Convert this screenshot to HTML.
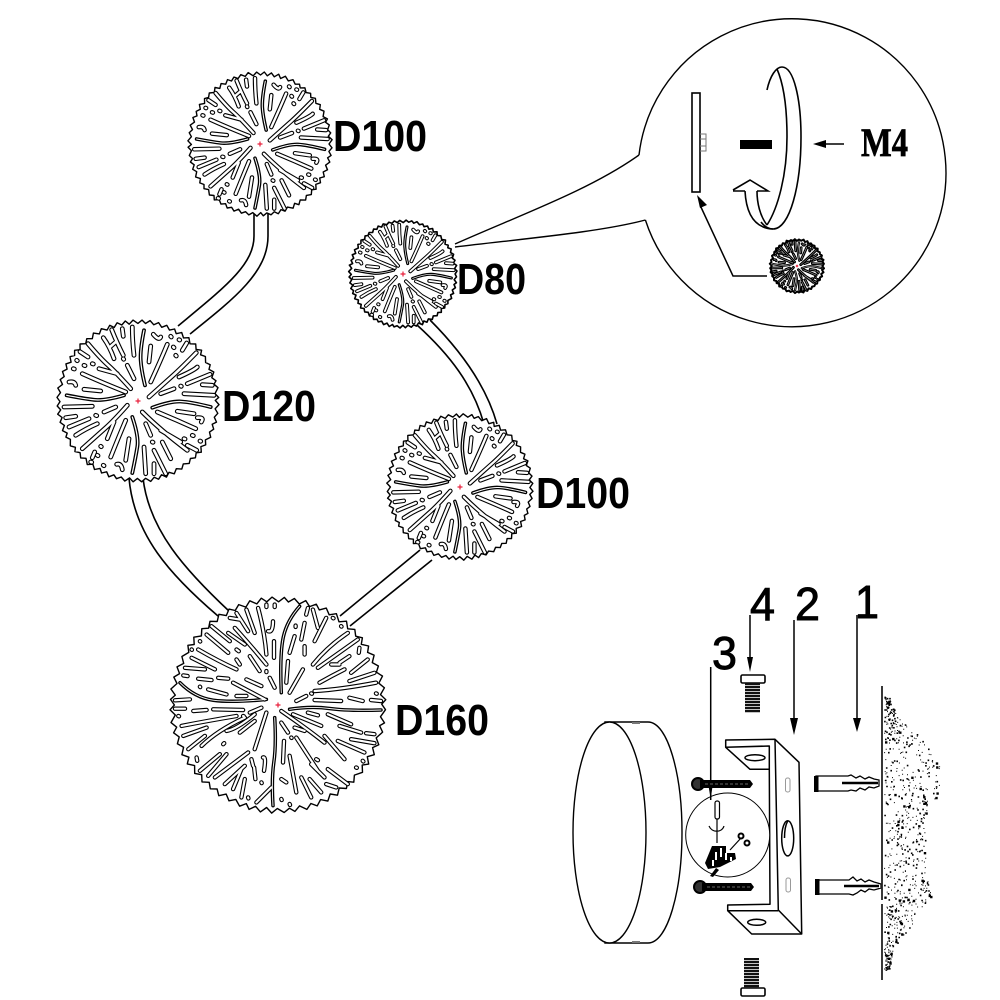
<!DOCTYPE html>
<html><head><meta charset="utf-8"><style>
html,body{margin:0;padding:0;background:#fff}
svg{display:block}
text{font-family:"Liberation Sans",sans-serif;fill:#000}
</style></head><body>
<svg id="s" xmlns="http://www.w3.org/2000/svg" width="1000" height="1000" viewBox="0 0 1000 1000">
<rect width="1000" height="1000" fill="#fff"/>
<g fill="none" stroke="#000" stroke-width="1.6">
<path d="M254 210V236C254 265 225 287 178 326"/>
<path d="M268 210V236C268 272 235 298 190 334"/>
<path d="M129 478C134 535 170 575 218 616"/>
<path d="M143 478C149 530 185 570 230 612"/>
<path d="M340 616L420 550"/>
<path d="M350 626L432 560"/>
<path d="M417 325C450 355 473 385 484 424"/>
<path d="M430 320C460 350 486 385 497 424"/>
</g>
<g id="disks"></g>
<g font-weight="bold">
<text x="333" y="151" font-size="44" textLength="94" lengthAdjust="spacingAndGlyphs">D100</text>
<text x="457" y="294" font-size="44" textLength="69" lengthAdjust="spacingAndGlyphs">D80</text>
<text x="222" y="421" font-size="44" textLength="94" lengthAdjust="spacingAndGlyphs">D120</text>
<text x="536" y="508" font-size="44" textLength="94" lengthAdjust="spacingAndGlyphs">D100</text>
<text x="395" y="735" font-size="44" textLength="94" lengthAdjust="spacingAndGlyphs">D160</text>
</g>
<!-- callout -->
<g fill="none" stroke="#000" stroke-width="1.4">
<path d="M639 155A154 154 0 1 1 645.4 220"/>
<path d="M455 244C520 215 590 190 639 155"/>
<path d="M455 247C530 238 600 232 645.4 220"/>
<rect x="692" y="93" width="8" height="99" stroke-width="1.6"/>
<path d="M700 134H706V151H700M700 139H706M700 146H706" stroke="#777" stroke-width="1"/>
<path d="M767 90C770 76 776 67 782 67C794 67 801 100 801 137C801 185 790 229 773 229C768 229 764 226 761 222" stroke-width="1.6"/>
<path d="M777 69C784 85 787 110 787 137C787 175 778 208 767 225" stroke-width="1.6"/>
<path d="M745 191C746 210 752 228 773 229M757 191C757 203 760 216 767 225" stroke-width="1.6"/>
<path d="M733 190L750 180L768 191H757M745 191H733" stroke-width="1.6"/>
<path d="M767 276H733L700 205" stroke-width="1.5"/>
<path d="M820 144H844" stroke-width="1.5"/>
</g>
<rect x="740" y="140" width="32" height="9" fill="#000"/>
<path d="M813 144L826 140V148Z M697 195L707 205L700 208Z"/>
<text x="861" y="156" font-size="40" font-weight="bold" textLength="47" lengthAdjust="spacingAndGlyphs" stroke="#000" stroke-width=".7" style="font-family:'Liberation Serif',serif">M4</text>
<!-- numbers -->
<g font-size="46" stroke="#000" stroke-width=".9">
<text x="855" y="618" textLength="24" lengthAdjust="spacingAndGlyphs">1</text>
<text x="795" y="620" textLength="25" lengthAdjust="spacingAndGlyphs">2</text>
<text x="712" y="669" textLength="25" lengthAdjust="spacingAndGlyphs">3</text>
<text x="750" y="620" textLength="25" lengthAdjust="spacingAndGlyphs">4</text>
</g>
<g fill="none" stroke="#000" stroke-width="1.5">
<path d="M857 615V725M794 620V728M750 615V665M710.7 667V790"/>
</g>
<path d="M853 718H861L857 732Z M790 718H798L794 735Z M747 657H753L750 672Z M708 783H713L710.7 799Z"/>
<!-- cap -->
<g fill="#fff" stroke="#000" stroke-width="1.4">
<path d="M605 722H648C668 722 682 775 682 832C682 890 668 943 648 943H605Z"/>
<ellipse cx="609.5" cy="832.5" rx="36.5" ry="110.5"/>
</g>
<path d="M632 722h8v2h-8zM632 941h8v2h-8z" fill="#777"/>
<!-- bracket -->
<g fill="#fff" stroke="#000" stroke-width="1.5" stroke-linejoin="round">
<path d="M725.7 740L775 739.3L799 762.3L801.7 934H751.7L727.7 910.7V905L770 904.3L769.3 769.3H750L725.7 747.3Z"/>
<path d="M769.3 769.3V746L725.7 747.3" fill="none"/>
<path d="M775 739.3L778.3 910L801.7 934M727.7 910.7H778.3" fill="none"/>
<ellipse cx="755" cy="757.7" rx="10" ry="3"/>
<ellipse cx="756.7" cy="922.3" rx="9" ry="3"/>
<ellipse cx="787.7" cy="838.3" rx="6" ry="17.6"/>
<path d="M784.5 838C784.5 828 786 824 787.7 821" fill="none"/>
</g>
<g fill="#fff" stroke="#999" stroke-width="1">
<rect x="785.5" y="778" width="4.5" height="14" rx="2"/>
<rect x="786" y="878" width="4.5" height="14" rx="2"/>
</g>
<!-- screws -->
<g>
<circle cx="698" cy="784" r="6" fill="#333" stroke="#000" stroke-width="2"/>
<circle cx="700" cy="887" r="6" fill="#333" stroke="#000" stroke-width="2"/>
<path d="M700 780H750L753 784L750 788H700Z"/>
<path d="M702 883H751L754 887L751 891H702Z"/>
<path d="M705 784H750M707 887H751" stroke="#888" stroke-width=".8" stroke-dasharray="3 2" fill="none"/>
</g>
<!-- wiring circle -->
<circle cx="727.7" cy="835" r="42" fill="#fff" stroke="#000" stroke-width="1"/>
<path d="M710.7 790V800" stroke="#000" stroke-width="1.5"/>
<g fill="none" stroke="#000" stroke-width="1.2">
<rect x="715" y="801" width="4.5" height="18" rx="2"/>
<path d="M709 826C712 833 722 833 724 826M717 819V843"/>
<path d="M730 850L741 838"/>
<circle cx="741" cy="836" r="2.5" stroke-width="2"/>
<circle cx="747" cy="843" r="2.5" stroke-width="2"/>
</g>
<path d="M712 846h14v7h9l1 6l-16 8l-12 2l-3 -6zM716 868l-6 8l3 1l6 -7z"/>
<g fill="#fff"><rect x="715" y="852" width="2" height="8"/><rect x="720" y="848" width="2" height="9"/><rect x="725" y="853" width="2" height="7"/><rect x="712" y="860" width="2" height="6"/><rect x="730" y="857" width="2" height="4"/></g>
<!-- bolts -->
<g>
<rect x="741" y="675" width="24" height="8" rx="1.5" fill="#fff" stroke="#000" stroke-width="1.6"/>
<line x1="752.5" y1="683" x2="752.5" y2="713" stroke="#111" stroke-width="15" stroke-dasharray="2.2 .8"/>
<rect x="741" y="988" width="24" height="8" rx="1.5" fill="#fff" stroke="#000" stroke-width="1.6"/>
<line x1="751.5" y1="958" x2="751.5" y2="988" stroke="#111" stroke-width="15" stroke-dasharray="2.2 .8"/>
</g>
<!-- anchors -->
<g fill="#fff" stroke="#000" stroke-width="1.3">
<path d="M816 776H848L851 775L856 778L860 776L865 779L869 777L874 779L879 780V786L874 788L869 787L865 790L860 788L856 791L851 790L848 791H816Z"/>
<path d="M816 880H849L853 877L857 881L861 879L865 882L869 880L874 882L881 884V888L874 890L869 889L865 892L861 890L857 893L853 895L849 894H816Z"/>
</g>
<path d="M814 776h4.5v16h-4.5zM815 879h4.5v16h-4.5z"/>
<path d="M842 783H878M844 886H879" stroke="#000" stroke-width="2.4"/>
<!-- wall -->
<path d="M882 686V900M882 904V980" stroke="#222" stroke-width="1.8" fill="none"/>
<g id="dots" fill="#000"></g>
</svg>
<script>
(function(){
var NS='http://www.w3.org/2000/svg';
function el(p,n,a){var e=document.createElementNS(NS,n);for(var k in a)e.setAttribute(k,a[k]);p.appendChild(e);return e;}
function R(seed){var s=seed>>>0;return function(){s=(s+0x6D2B79F5)>>>0;var t=s;t=Math.imul(t^(t>>>15),t|1);t^=t+Math.imul(t^(t>>>7),t|61);return((t^(t>>>14))>>>0)/4294967296;};}
var A={c:[262,262],r:243,a:[
"!280,50 268,110 272,170 283,215","245,40 245,80 250,125","215,45 218,68","183,48 200,90 218,125",
"158,72 178,100 190,135","195,85 178,100","112,90 150,135 195,175 240,225","230,155 250,195","218,135 219,137",
"88,114 112,130","125,150 128,151","100,155 103,156","78,140 80,141","68,165 71,166","145,165 200,180",
"95,180 150,205 225,235","55,205 72,202 75,215","100,227 150,232","!48,245 100,255 160,262 220,245","40,280 125,278",
"45,312 75,308","135,305 138,306","160,295 195,280","55,340 115,315","75,365 105,345 140,330",
"95,405 140,365 190,320 230,275","125,432 132,415","150,398 152,399","140,425 142,426","120,445 123,446","158,455 160,456",
"180,430 200,380 225,320","170,375 190,325","225,440 235,375","198,452 212,448 215,468","!245,310 265,370 255,430 245,478",
"285,330 300,365","305,385 307,386","280,400 285,480","310,450 310,480","310,410 330,450 345,480","335,385 360,435",
"275,295 330,350 410,410","330,350 390,385","400,375 403,376","425,365 428,366","448,382 450,383","410,395 438,410",
"320,295 380,320 435,345","380,293 430,300","440,312 462,310 452,325","!305,282 360,262 420,265 480,280","400,240 490,245",
"455,213 485,215","390,217 392,218","330,240 370,225","295,250 345,205 390,165 437,117","385,190 430,170 440,160",
"410,210 478,182","300,205 330,140 350,92","295,145 300,97","308,62 325,82 330,70","360,68 362,70","385,78 387,79",
"368,100 370,102","375,125 377,127","395,110 408,88"
]};
var B={c:[340,347],r:325,a:[
"305,45 305,52","330,45 330,52","!405,50 365,95 345,200 350,310","280,55 300,130 305,195","245,60 270,130","215,70 250,125","195,85 225,90",
"325,95 325,130 310,125","328,155 328,205","305,245 305,248","210,115 260,170 305,225","140,110 195,155","190,130 240,165","125,135 190,190",
"105,155 106,156","80,180 81,181","215,180 222,185","100,180 160,215 215,240","255,200 285,245","80,205 150,240","60,235 120,240","215,210 225,225",
"245,270 290,290","315,265 330,295","55,258 68,260","100,268 140,272","160,265 190,268","205,280 300,330","130,300 185,315","105,292 106,293",
"!45,280 90,325 200,340 305,330","215,320 245,320","30,333 75,330","30,358 60,358","85,365 125,362","145,360 235,362","40,380 42,381",
"50,410 125,395 215,380","235,380 237,381","255,370 290,355","55,440 125,415","70,480 120,440","110,470 155,425 240,385","185,425 215,420 270,375",
"175,465 178,462","105,545 165,495","95,505 97,515","130,560 185,495","150,565 250,490","225,430 270,395","180,585 240,530","270,480 305,370",
"260,510 265,530","205,600 230,540","230,625 240,570","268,535 272,570","250,625 251,628","290,580 291,582","295,505 305,500 298,545",
"!330,385 335,470 320,570 325,650","275,640 320,595","350,570 365,580","358,455 355,520","350,630 351,633","375,645 376,648","375,500 395,610",
"410,565 440,625","435,570 470,610","440,525 480,565","485,585 515,595","490,540 550,585","380,445 381,446","395,445 460,545","455,510 460,513",
"350,400 370,430","350,365 430,420 480,460","390,415 420,425","480,440 540,510","520,455 600,490","595,515 597,517","575,535 577,536",
"385,375 470,410","430,370 460,378","490,375 560,405","525,410 590,430","560,450 630,462","605,432 630,435","!375,360 440,350 550,365 650,362",
"450,332 530,335","555,325 595,335","620,332 650,335","635,312 637,313","395,335 425,320","440,312 442,313","450,305 530,300 635,280",
"555,275 630,250","560,250 610,210","585,175 583,190","465,280 500,260 540,240","500,225 525,225","525,220 555,200","375,310 415,240",
"365,280 370,215","445,225 490,170 550,130","460,235 580,150","420,170 420,195","375,190 390,140","410,150 420,100","393,108 393,112",
"450,155 485,85","425,75 430,55","445,60 460,115","505,85 507,86","530,110 531,111"
]};
function path(str,P,cx,cy,r){
 var k=r/P.r,pts=str.replace('!','').split(' ').map(function(q){var v=q.split(',');return[cx+(+v[0]-P.c[0])*k,cy+(+v[1]-P.c[1])*k];});
 var f=function(n){return n.toFixed(1);};
 var d='M'+f(pts[0][0])+' '+f(pts[0][1]);
 if(pts.length<3){return d+'L'+f(pts[1][0])+' '+f(pts[1][1]);}
 for(var i=1;i<pts.length-1;i++){
  var e=i==pts.length-2?pts[i+1]:[(pts[i][0]+pts[i+1][0])/2,(pts[i][1]+pts[i+1][1])/2];
  d+='Q'+f(pts[i][0])+' '+f(pts[i][1])+' '+f(e[0])+' '+f(e[1]);
 }
 return d;
}
function disk(parent,cx,cy,r,seed,Pt,o){
 o=o||{};
 var rng=R(seed),g=el(parent,'g',{});
 var teeth=o.teeth||60,p=[],dep=o.dep||r*.042;
 for(var i=0;i<teeth;i++){
  var a=i/teeth*Math.PI*2+(rng()-.5)*.02;
  var rr=r-dep+(rng()-.5)*.8;
  p.push((cx+Math.cos(a)*rr).toFixed(1)+','+(cy+Math.sin(a)*rr).toFixed(1));
  a+=Math.PI/teeth;
  rr=r+(rng()-.5)*.8;
  p.push((cx+Math.cos(a)*rr).toFixed(1)+','+(cy+Math.sin(a)*rr).toFixed(1));
 }
 el(g,'polygon',{points:p.join(' '),fill:'#fff',stroke:'#000','stroke-width':o.os||1.4,'stroke-linejoin':'round'});
 var w=o.w||4.6,sub=o.sub||2.2,nd='',td='';
 Pt.a.forEach(function(s){var d=path(s,Pt,cx,cy,r);if(s[0]=='!')td+=d;else nd+=d;});
 el(g,'path',{d:nd,fill:'none',stroke:'#000','stroke-width':w,'stroke-linecap':'round','stroke-linejoin':'round'});
 el(g,'path',{d:td,fill:'none',stroke:'#000','stroke-width':w*.8,'stroke-linecap':'round','stroke-linejoin':'round'});
 el(g,'path',{d:nd,fill:'none',stroke:'#fff','stroke-width':Math.max(w-sub,.4),'stroke-linecap':'round','stroke-linejoin':'round'});
 el(g,'path',{d:td,fill:'none',stroke:'#fff','stroke-width':Math.max(w*.8-sub-.4,.4),'stroke-linecap':'round','stroke-linejoin':'round'});
 var c=o.c||2.5;
 el(g,'path',{d:'M'+(cx-c)+' '+cy+'H'+(cx+c)+'M'+cx+' '+(cy-c)+'V'+(cy+c),stroke:'#e8203c','stroke-width':1.2,fill:'none'});
}
var P=document.getElementById('disks');
disk(P,260,144,72,11,A,{w:4.5});
disk(P,138,401,81,23,A,{w:4.8});
disk(P,403,274,54,37,A,{w:3.8,sub:2,os:1.6});
disk(P,460,487,73,41,A,{w:4.5});
disk(P,278,705,108,53,B,{w:4.4});
disk(P,797,266,27,67,A,{w:2.8,sub:2.4,teeth:40,dep:1.5,c:1.2,os:2});
// speckle
var rng=R(99),pts=[[690,886],[700,890],[720,900],[735,918],[760,938],[783,944],[800,935],[820,925],[845,926],[870,925],[898,932],[920,915],[950,893],[975,888]];
function right(y){for(var i=0;i<pts.length-1;i++){if(y>=pts[i][0]&&y<=pts[i+1][0]){var t=(y-pts[i][0])/(pts[i+1][0]-pts[i][0]);return pts[i][1]+(pts[i+1][1]-pts[i][1])*t;}}return 886;}
var D=document.getElementById('dots'),dd='';
for(var i=0;i<720;i++){
 var y=695+rng()*275,rx=right(y),x=884+rng()*(rx-884);
 var s=rng();s=s<.6?1:(s<.93?1.6:2.4);
 dd+='M'+x.toFixed(1)+' '+y.toFixed(1)+'h'+s+'v'+s+'h-'+s+'z';
}
el(D,'path',{d:dd});
})();
</script>
</body></html>
